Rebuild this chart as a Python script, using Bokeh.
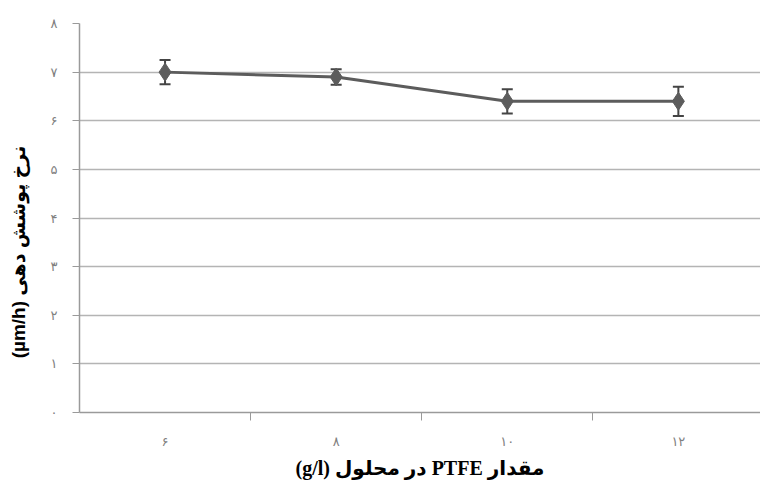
import math
from bokeh.plotting import figure
from bokeh.models import Range1d, FixedTicker, ColumnDataSource, Whisker, TeeHead, Label
from bokeh.embed import file_html
from bokeh.resources import INLINE

# ---- data ----
categories = ["۶", "۸", "۱۰", "۱۲"]          # PTFE amount (g/l)
rate = [7.0, 6.9, 6.4, 6.4]                 # coating rate (µm/h)
err = [0.25, 0.16, 0.25, 0.30]              # error bar half-widths
y_ticks = [0, 1, 2, 3, 4, 5, 6, 7, 8]
y_tick_labels = ["۰", "۱", "۲", "۳", "۴", "۵", "۶", "۷", "۸"]
x_label = "مقدار PTFE در محلول (g/l)"
y_label = "نرخ پوشش دهی (µm/h)"

RLE, PDF = "\u202B", "\u202C"

xs = [i + 0.5 for i in range(len(categories))]
bounds = [i + 1 for i in range(len(categories))]
src = ColumnDataSource(dict(
    x=xs, y=rate,
    lo=[r - e for r, e in zip(rate, err)],
    hi=[r + e for r, e in zip(rate, err)],
))

p = figure(width=760, height=488, output_backend="svg", toolbar_location=None,
           x_range=Range1d(0, 3.98), y_range=Range1d(0, 8),
           min_border_left=79, min_border_right=0, min_border_top=23,
           min_border_bottom=76)
p.outline_line_color = None
p.background_fill_color = "white"
p.border_fill_color = "white"

p.xgrid.grid_line_color = None
p.ygrid.grid_line_color = "#b4b4b4"
p.ygrid.grid_line_width = 1.5

GRAY_AX = "#9a9a9a"
TICK_COL = "#808080"

# x axis
p.xaxis.ticker = FixedTicker(ticks=xs, minor_ticks=bounds)
p.xaxis.major_label_overrides = {x: c for x, c in zip(xs, categories)}
p.xaxis.major_tick_out = 0
p.xaxis.major_tick_in = 0
p.xaxis.minor_tick_out = 8
p.xaxis.minor_tick_in = 0
p.xaxis.minor_tick_line_color = GRAY_AX
p.xaxis.axis_line_color = GRAY_AX
p.xaxis.axis_line_width = 1.5
p.xaxis.major_label_standoff = 13
p.xaxis.major_label_text_color = TICK_COL
p.xaxis.major_label_text_font = "DejaVu Sans"
p.xaxis.major_label_text_font_size = "13px"
p.xaxis.axis_label = RLE + x_label + PDF
p.xaxis.axis_label_standoff = 5
p.xaxis.axis_label_text_font = "'Liberation Serif', 'DejaVu Sans'"
p.xaxis.axis_label_text_font_style = "bold"
p.xaxis.axis_label_text_font_size = "20px"
p.xaxis.axis_label_text_color = "black"

# y axis
p.yaxis.ticker = FixedTicker(ticks=y_ticks)
p.yaxis.major_label_overrides = {t: l for t, l in zip(y_ticks, y_tick_labels)}
p.yaxis.minor_tick_line_color = None
p.yaxis.major_tick_out = 7
p.yaxis.major_tick_in = 0
p.yaxis.major_tick_line_color = GRAY_AX
p.yaxis.axis_line_color = GRAY_AX
p.yaxis.axis_line_width = 1.5
p.yaxis.major_label_standoff = 15
p.yaxis.major_label_text_color = TICK_COL
p.yaxis.major_label_text_font = "DejaVu Sans"
p.yaxis.major_label_text_font_size = "13px"

# y-axis title (placed as a label so it can sit lower than the frame centre)
p.add_layout(Label(x=-8, y=3.3, x_units="screen", y_units="data",
                   text=RLE + y_label + PDF, angle=math.pi / 2,
                   text_align="center", text_baseline="middle",
                   text_font="'Liberation Sans', 'DejaVu Sans'",
                   text_font_style="bold", text_font_size="19px",
                   text_color="black"), "left")

LINE = "#5c5c5c"
p.line("x", "y", source=src, line_color=LINE, line_width=3)
p.add_layout(Whisker(source=src, base="x", upper="hi", lower="lo",
                     dimension="height", line_color="#444444", line_width=2,
                     upper_head=TeeHead(size=11, line_color="#444444", line_width=2),
                     lower_head=TeeHead(size=11, line_color="#444444", line_width=2)))
p.scatter("x", "y", source=src, marker="diamond", size=18,
          fill_color=LINE, line_color=LINE)

open("out.html", "w").write(file_html(p, INLINE))
